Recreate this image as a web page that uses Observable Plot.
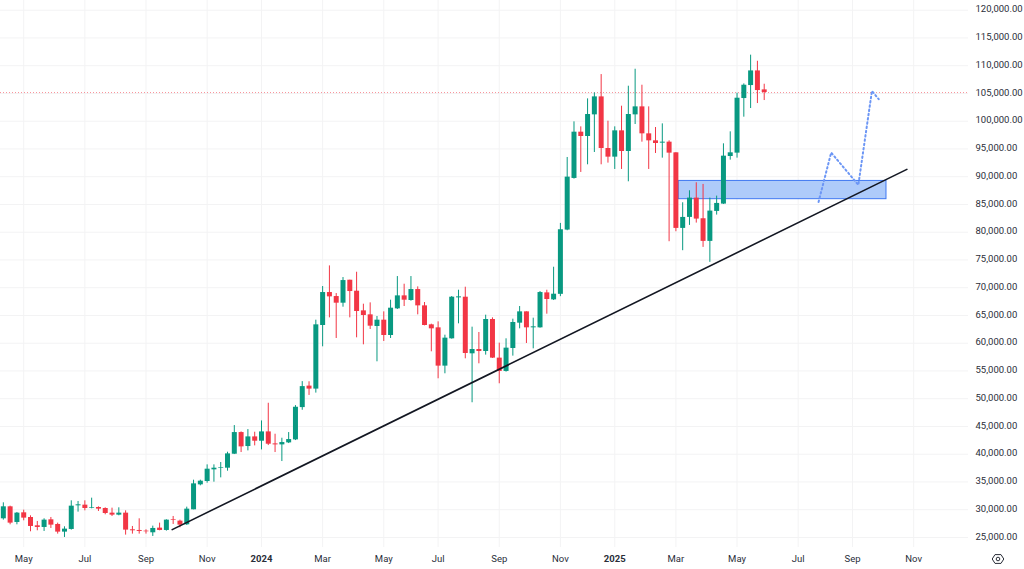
<!DOCTYPE html>
<html>
<head>
<meta charset="utf-8">
<script src="https://cdn.jsdelivr.net/npm/d3@7"></script>
<script src="https://cdn.jsdelivr.net/npm/@observablehq/plot@0.6"></script>
<style>
html,body{margin:0;padding:0;background:#fff;overflow:hidden}
#chart{position:relative;width:1024px;height:569px}
#chart svg.plot{display:block}
#gear{position:absolute;left:990px;top:551px}
</style>
</head>
<body>
<div id="chart"></div>
<script>
const firstWeek = "2023-04-10";
const opens = [28360,30520,27700,29440,28600,27100,26800,28180,27340,25960,26440,30700,30820,30220,30400,30220,29380,29020,29380,26380,26260,26140,25840,26680,26260,28180,27940,27280,29980,34480,35080,37180,37420,37480,40000,43900,41380,43120,42340,44020,41860,41680,42040,42580,48400,52270,51730,63190,69130,68410,67210,71350,69370,65830,65110,63010,64150,61390,66190,68530,67690,69670,66730,63310,62770,55870,60790,68170,68290,58090,58870,58510,64270,57310,54910,59050,63610,65650,62770,62770,69070,67810,68805,80385,89685,98025,97245,101145,104385,95085,93525,98265,94545,101145,102585,97725,96465,96045,96225,94305,80685,82665,86145,82425,78345,83745,85065,93645,94245,104085,106425,109065,105645];
const highs = [31240,30640,29500,29920,28900,27880,28360,28600,27580,26920,31600,31480,31600,32080,30520,30340,30280,30340,29800,26980,28360,26380,27040,27580,28180,28780,28120,30460,35320,35320,38080,38080,38500,40360,45160,44020,44440,43960,46000,49180,43600,42880,43900,48760,53080,53050,64150,70210,73930,68950,71830,71350,72790,67030,67270,64810,65650,67750,72010,70630,72010,70150,67330,63430,63850,61450,68410,69550,70090,62890,61930,65050,64570,60010,60790,64330,66610,65650,64510,69310,69550,73690,81585,93465,99885,98985,104025,105105,108405,100005,98985,102705,106305,109365,106485,102585,98865,99525,96465,94305,85305,87465,88905,88605,86145,86505,95925,98085,105045,106725,111900,110800,106665];
const lows = [28120,27280,27280,28000,26020,26200,26080,26620,25600,25000,26320,29560,29800,30160,29680,29080,28780,28900,25420,25600,25600,25600,25180,26200,26140,27340,26740,27160,29980,34300,34780,34960,35740,36940,39940,40300,40600,41500,40780,41560,40300,38680,41920,42460,47920,50590,51010,59350,64570,60850,66490,64570,60970,59710,62470,56650,60310,60850,66070,66610,67570,65110,63130,58450,53590,54490,60730,63490,57190,49270,56290,57850,57250,52690,54790,57670,62590,59950,58990,62710,65230,67690,68385,80265,89565,90765,92145,94365,92145,92445,91305,91305,89085,99405,96225,91305,94185,93345,78285,80085,76665,81225,81645,77265,74565,83085,85005,92985,93345,100725,102285,103185,103725];
const closes = [30520,27580,29380,28480,26980,26800,28120,27220,25960,26500,30640,30880,30220,30340,30100,29320,29020,29380,26320,26200,26080,26020,26620,26260,28120,28060,27220,30100,34660,35140,37300,37480,37540,40060,43900,41320,43120,42340,44020,41800,41680,42100,42640,48460,52180,51730,63310,69130,68350,67210,71290,69310,65710,64990,63070,64150,61390,66310,68530,67750,69670,66730,63190,62590,55870,60910,68290,68350,58150,58870,58510,64270,57310,54910,59110,63730,65650,62770,62950,69130,67870,68830,80445,89925,98025,97245,101205,104385,95085,93525,98265,94545,101205,102585,97725,96465,95985,96225,94245,80685,82665,86145,82365,78345,83805,85185,93705,94305,104145,106485,109065,105525,105165];

const priceTicks = [120000,115000,110000,105000,100000,95000,90000,85000,80000,75000,70000,65000,60000,55000,50000,45000,40000,35000,30000,25000];
const monthTicks = ["2023-05-01","2023-07-03","2023-09-04","2023-11-06","2024-03-04","2024-05-06","2024-07-01","2024-09-02","2024-11-04","2025-03-03","2025-05-05","2025-07-07","2025-09-01","2025-11-03"];
const yearTicks = ["2024-01-01","2024-12-30"];
const yearLabels = ["2024","2025"];

const zoneDates = ["2025-03-06","2025-10-06"];
const zonePrices = [85950,89240];
const trendDates = ["2023-10-01","2025-10-27"];
const trendPrices = [26415,91316];
const pathDates = ["2025-07-28","2025-08-10","2025-09-07","2025-09-21","2025-09-28"];
const pathPrices = [85460,94340,88520,105460,103960];

const UP = "#089981", DOWN = "#f23645", GRID = "#f3f3f4", INK = "#2a2e39";
const FONT = "Roboto, sans-serif";

const date = s => new Date(s + "T00:00:00Z");
const candles = opens.map((o, i) => ({
  date: d3.utcDay.offset(date(firstWeek), 7 * i),
  open: o, high: highs[i], low: lows[i], close: closes[i],
  color: closes[i] >= o ? UP : DOWN
}));
const monthDates = monthTicks.map(date);
const yearDates = yearTicks.map(date);
const last = closes[closes.length - 1];

const chart = Plot.plot({
  width: 1024, height: 569,
  marginLeft: 0, marginRight: 56, marginTop: 0, marginBottom: 22,
  style: {fontFamily: FONT, background: "#fff"},
  x: {domain: [new Date("2023-04-07T02:00:00Z"), new Date("2025-12-29T12:00:00Z")]},
  y: {domain: [23190, 121750]},
  color: {type: "identity"},
  marks: [
    Plot.gridY(priceTicks, {stroke: GRID, strokeOpacity: 1}),
    Plot.gridX([...monthDates, ...yearDates], {stroke: GRID, strokeOpacity: 1}),
    Plot.rectY([0], {x1: () => date(zoneDates[0]), x2: () => date(zoneDates[1]), y1: zonePrices[0], y2: zonePrices[1], fill: "#aecbfa", stroke: "#3f78f2", strokeWidth: 1}),
    Plot.ruleY([last], {stroke: DOWN, strokeWidth: 1, strokeDasharray: "1 2", strokeOpacity: 0.55}),
    Plot.ruleX(candles, {x: "date", y1: "low", y2: "high", stroke: "color", strokeWidth: 1}),
    Plot.ruleX(candles, {x: "date", y1: "open", y2: "close", stroke: "color", strokeWidth: 5}),
    Plot.line(trendDates.map((d, i) => ({d: date(d), p: trendPrices[i]})), {x: "d", y: "p", stroke: "#131722", strokeWidth: 1.6}),
    Plot.line(pathDates.map((d, i) => ({d: date(d), p: pathPrices[i]})), {x: "d", y: "p", stroke: "#6c96f5", strokeWidth: 2, strokeDasharray: "1.5 2.8"}),
    Plot.axisY(priceTicks, {anchor: "right", tickSize: 0, tickPadding: 7, dy: -1, tickFormat: d3.format(",.2f"), fontSize: 9.5, fill: INK, label: null}),
    Plot.axisX(monthDates, {anchor: "bottom", tickSize: 0, tickPadding: 8, tickFormat: d3.utcFormat("%b"), fontSize: 9.5, fill: INK, label: null}),
    Plot.axisX(yearDates, {anchor: "bottom", tickSize: 0, tickPadding: 8, tickFormat: (d, i) => yearLabels[yearDates.findIndex(y => +y === +d)], fontSize: 9.5, fontWeight: "bold", fill: INK, label: null})
  ]
});
chart.classList.add("plot");
const host = document.getElementById("chart");
host.appendChild(chart);
host.insertAdjacentHTML("beforeend", '<svg id="gear" width="16" height="16" viewBox="0 0 16 16"><path d="M2.2 8 5 3.6h6L13.8 8 11 12.4H5Z" fill="none" stroke="#2a2e39" stroke-width="1"/><circle cx="8" cy="8" r="1.8" fill="none" stroke="#2a2e39" stroke-width="1"/></svg>');
</script>
</body>
</html>
